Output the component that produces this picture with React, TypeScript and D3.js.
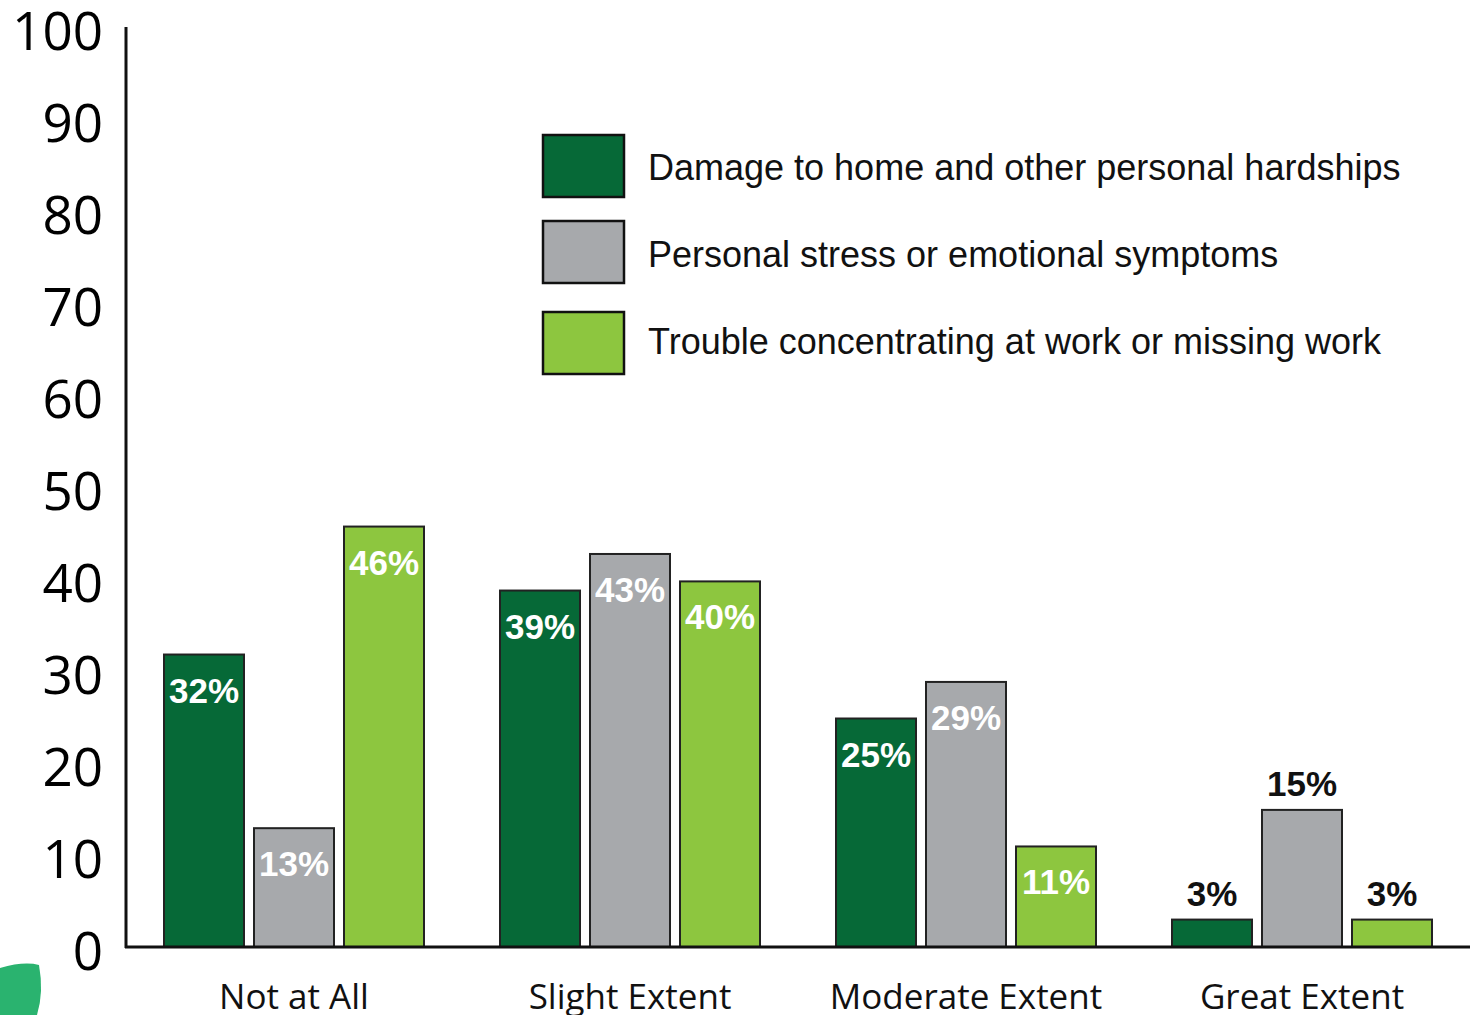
import React from "react";
import * as d3 from "d3";

const categories = ["Not at All", "Slight Extent", "Moderate Extent", "Great Extent"];
const seriesNames = [
  "Damage to home and other personal hardships",
  "Personal stress or emotional symptoms",
  "Trouble concentrating at work or missing work",
];
const damageValues = [32, 39, 25, 3];
const stressValues = [13, 43, 29, 15];
const troubleValues = [46, 40, 11, 3];
const seriesColors = ["#066937", "#a7a9ac", "#8dc63f"];
const yTicks = [0, 10, 20, 30, 40, 50, 60, 70, 80, 90, 100];

const W = 1470;
const H = 1015;

export default function App() {
  const seriesValues = [damageValues, stressValues, troubleValues];
  const x0 = d3.scaleBand<string>().domain(categories).range([126, 1470]).padding(0);
  const x1 = d3
    .scaleBand<string>()
    .domain(seriesNames)
    .range([-130, 130])
    .paddingInner(1 / 9)
    .paddingOuter(0);
  const y = d3.scaleLinear().domain([0, 100]).range([947, 33]);
  const yLabel = d3.scaleLinear().domain([0, 100]).range([951, 31]);

  const tickFont = "'Open Sans', 'Noto Sans', sans-serif";
  const labelFont = "'Liberation Sans', Arial, sans-serif";

  return (
    <svg
      width={W}
      height={H}
      style={{ position: "absolute", left: 0, top: 0, background: "#fff" }}
    >
      <rect x={0} y={0} width={W} height={H} fill="#fff" />
      {/* decorative blob */}
      <path d="M0,968 Q24,961 39,965 Q44,992 37,1015 L0,1015 Z" fill="#2ab36f" />

      {/* y tick labels */}
      {yTicks.map((t) => (
        <text
          key={t}
          x={103}
          y={yLabel(t) + 19}
          textAnchor="end"
          fontFamily={tickFont}
          fontSize={53}
          fill="#000"
        >
          {t}
        </text>
      ))}

      {/* bars */}
      {categories.map((cat, ci) => (
        <g key={cat} transform={`translate(${(x0(cat) ?? 0) + x0.bandwidth() / 2},0)`}>
          {seriesNames.map((s, si) => {
            const v = seriesValues[si][ci];
            const bx = x1(s) ?? 0;
            const top = y(v);
            const inside = ci !== 3;
            return (
              <g key={s}>
                <rect
                  x={bx}
                  y={top}
                  width={x1.bandwidth()}
                  height={y(0) - top}
                  fill={seriesColors[si]}
                  stroke="#222"
                  strokeWidth={2}
                />
                <text
                  x={bx + x1.bandwidth() / 2}
                  y={inside ? top + 48 : top - 14}
                  textAnchor="middle"
                  fontFamily={labelFont}
                  fontWeight="bold"
                  fontSize={35}
                  fill={inside ? "#fff" : "#111"}
                >
                  {v}%
                </text>
              </g>
            );
          })}
          <text
            x={0}
            y={1009}
            textAnchor="middle"
            fontFamily={tickFont}
            fontSize={35}
            fill="#111"
          >
            {cat}
          </text>
        </g>
      ))}

      {/* axes */}
      <line x1={126} x2={126} y1={27} y2={948} stroke="#111" strokeWidth={3} />
      <line x1={125} x2={1470} y1={947} y2={947} stroke="#111" strokeWidth={3} />

      {/* legend */}
      {seriesNames.map((s, i) => {
        const ly = [135, 221, 312][i];
        const ty = [180, 267, 354][i];
        return (
          <g key={s}>
            <rect
              x={543}
              y={ly}
              width={81}
              height={62}
              fill={seriesColors[i]}
              stroke="#111"
              strokeWidth={2.5}
            />
            <text
              x={648}
              y={ty}
              fontFamily={labelFont}
              fontSize={36}
              fill="#111"
            >
              {s}
            </text>
          </g>
        );
      })}
    </svg>
  );
}
